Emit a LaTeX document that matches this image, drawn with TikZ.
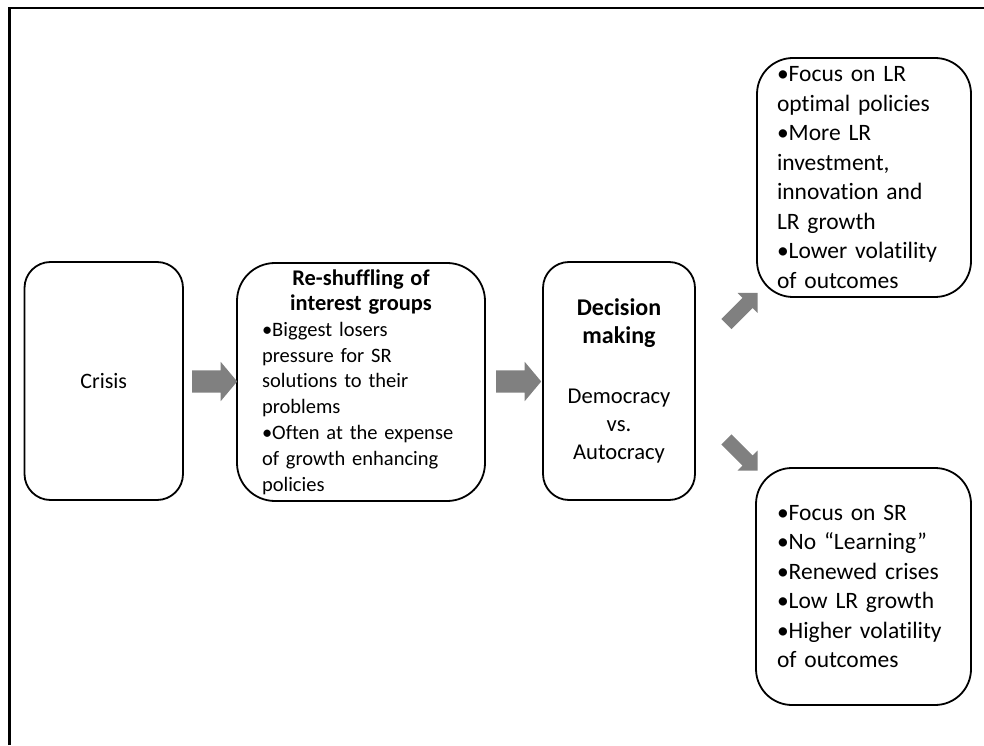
\documentclass[tikz,border=0pt]{standalone}
\usepackage{fontspec}
\setmainfont{Carlito}[Ligatures=NoCommon]
\usetikzlibrary{shapes.arrows,calc}
\definecolor{arrowgray}{HTML}{808080}
\begin{document}
\begin{tikzpicture}[x=1pt,y=1pt,
  box/.style={draw, line width=1.8pt, rounded corners=#1, inner xsep=0pt, inner ysep=0pt,
    font=\fontsize{23.5}{29.5}\selectfont},
  box/.default=26pt,
  blockarrow/.style={single arrow, fill=arrowgray, draw=none, inner xsep=0pt, inner ysep=11pt,
    minimum height=45pt, minimum width=39pt, single arrow head extend=8.5pt,
    single arrow tip angle=100},
  diagarrow/.style={single arrow, fill=arrowgray, draw=none, inner xsep=0pt, inner ysep=7pt,
    minimum height=44pt, minimum width=28pt, single arrow head extend=7pt,
    single arrow tip angle=90}]
\useasboundingbox (0,0) rectangle (984,745);
% frame
\coordinate (fbl) at (9.5,0);
\coordinate (ftl) at (9.5,737);
\coordinate (ftr) at (984,737);
\draw[line width=2.8pt] (fbl) -- (ftl) -- (ftr);

\node[box=26pt, minimum width=158.5pt, minimum height=238pt, font=\fontsize{22}{29.5}\selectfont] (crisis) at (103.75,364) {Crisis};

\node[box=38pt, minimum width=248pt, minimum height=238pt, text width=198pt,
  font=\fontsize{20.5}{25.8}\selectfont] (shuffle) at (361,363)
  {{\centering\fontsize{22.4}{25.2}\selectfont\bfseries Re-shuffling of\\interest groups\par}
   \raggedright •Biggest losers\\pressure for SR\\solutions to their\\problems\\•Often at the expense\\of growth enhancing\\policies};

\node[box=26pt, minimum width=152pt, minimum height=238pt, align=center,
  font=\fontsize{22.6}{28}\selectfont] (decision) at (619,364)
  {{\fontsize{24}{28}\selectfont\bfseries Decision}\\{\fontsize{24}{28}\selectfont\bfseries making}\\[32pt]Democracy\\vs.\\Autocracy};

\node[box=36pt, minimum width=214pt, minimum height=239pt, text width=174pt, align=left] (lr) at (864,567.5)
  {•Focus on LR\\optimal policies\\•More LR\\investment,\\innovation and\\LR growth\\•Lower volatility\\of outcomes};

\node[box=36pt, minimum width=215pt, minimum height=237pt, text width=173pt, align=left] (sr) at (863.5,158.5)
  {•Focus on SR\\•No “Learning”\\•Renewed crises\\•Low LR growth\\•Higher volatility\\of outcomes};

\node[blockarrow] (a1) at ($(crisis.east)!0.5!(shuffle.west)$) {};
\node[blockarrow] (a2) at ($(shuffle.east)!0.5!(decision.west)$) {};
\node[diagarrow, rotate=45] (a3) at (739.5,434) {};
\node[diagarrow, rotate=-45] (a4) at (739.5,292.5) {};
\end{tikzpicture}
\end{document}
